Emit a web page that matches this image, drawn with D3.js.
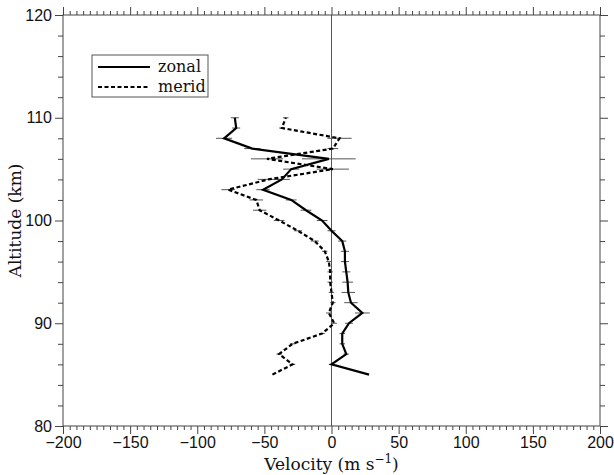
<!DOCTYPE html>
<html><head><meta charset="utf-8">
<script src="https://cdn.jsdelivr.net/npm/d3@7"></script>
<style>body{margin:0;background:#fff}</style>
</head><body>
<svg id="c" width="614" height="475"></svg>
<script>
const altitude = [85,86,87,88,89,90,91,92,93,94,95,96,97,98,99,100,101,102,103,104,105,106,107,108,109,110];
const zonal    = [28,0,11,8,8,13,23,14.5,12.5,12,11,10,10,8,0,-7,-19,-30,-51,-37,-30,-2,-59,-80,-71,-72];
const zonalErr = [0,2,2,2,2,3,5.5,5,5,4,3,3,3,3,3,4,4,4,5,6,6,20,6,6,3,3];
const merid    = [-44,-29,-39,-29,-7,2,-2,1,0,-1,-1,-2,-5,-12.5,-25,-39,-53.5,-56,-77,-47,1,-48,1,6,-37,-34];
const meridErr = [0,2,2,2,2,2,2,2,2,2,2,2,2,3,3,4,5,5,5,8,12,12,4,9,2,2];
const xTicks = [-200,-150,-100,-50,0,50,100,150,200];
const yTicks = [80,90,100,110,120];
const seriesNames = ["zonal","merid"];

const W=614,H=475, m={l:63,r:14,t:15,b:49};
const svg=d3.select("#c");
const x=d3.scaleLinear().domain([-200,200]).range([m.l,W-m.r]);
const y=d3.scaleLinear().domain([80,120]).range([H-m.b,m.t]);

const minorX=d3.range(-200,201,5).filter(v=>v%50!==0);
const minorY=d3.range(80,121,2).filter(v=>v%10!==0);
const axisColor="#444";
function styleAxis(g){g.selectAll("path,line").attr("stroke",axisColor).attr("stroke-width",1);g.select(".domain").remove();}

// minor ticks
svg.append("g").attr("transform",`translate(0,${H-m.b})`).call(d3.axisBottom(x).tickValues(minorX).tickSize(4).tickFormat("")).call(styleAxis);
svg.append("g").attr("transform",`translate(0,${m.t})`).call(d3.axisTop(x).tickValues(minorX).tickSize(4).tickFormat("")).call(styleAxis);
svg.append("g").attr("transform",`translate(${m.l},0)`).call(d3.axisLeft(y).tickValues(minorY).tickSize(5).tickFormat("")).call(styleAxis);
svg.append("g").attr("transform",`translate(${W-m.r},0)`).call(d3.axisRight(y).tickValues(minorY).tickSize(5).tickFormat("")).call(styleAxis);
// major ticks
const fmt=d=>d<0?"\u2212"+Math.abs(d):String(d);
svg.append("g").attr("transform",`translate(0,${H-m.b})`).call(d3.axisBottom(x).tickValues(xTicks).tickSize(8).tickPadding(3).tickFormat(fmt)).call(styleAxis);
svg.append("g").attr("transform",`translate(0,${m.t})`).call(d3.axisTop(x).tickValues(xTicks).tickSize(8).tickFormat("")).call(styleAxis);
svg.append("g").attr("transform",`translate(${m.l},0)`).call(d3.axisLeft(y).tickValues(yTicks).tickSize(8).tickPadding(3).tickFormat(fmt)).call(styleAxis);
svg.append("g").attr("transform",`translate(${W-m.r},0)`).call(d3.axisRight(y).tickValues(yTicks).tickSize(8).tickFormat("")).call(styleAxis);
svg.selectAll("g text").attr("font-family","Liberation Sans, Arial, sans-serif").attr("font-size",16).attr("fill","#111");

// frame
svg.append("rect").attr("x",m.l).attr("y",m.t).attr("width",W-m.l-m.r).attr("height",H-m.t-m.b)
  .attr("fill","none").attr("stroke",axisColor).attr("stroke-width",1);
// zero line
svg.append("line").attr("x1",x(0)).attr("x2",x(0)).attr("y1",m.t).attr("y2",H-m.b).attr("stroke","#555").attr("stroke-width",1);

// error bars
function errBars(vals,errs){
  svg.append("g").selectAll("line").data(altitude.map((a,i)=>({a,v:vals[i],e:errs[i]})).filter(d=>d.e>0))
   .join("line").attr("x1",d=>x(d.v-d.e)).attr("x2",d=>x(d.v+d.e)).attr("y1",d=>y(d.a)).attr("y2",d=>y(d.a))
   .attr("stroke","#555").attr("stroke-width",1);
}
errBars(zonal,zonalErr); errBars(merid,meridErr);

const line=d3.line().x(d=>x(d[0])).y(d=>y(d[1]));
svg.append("path").datum(altitude.map((a,i)=>[zonal[i],a])).attr("d",line).attr("fill","none").attr("stroke","#000").attr("stroke-width",2.2).attr("stroke-linejoin","miter");
svg.append("path").datum(altitude.map((a,i)=>[merid[i],a])).attr("d",line).attr("fill","none").attr("stroke","#000").attr("stroke-width",2.2).attr("stroke-dasharray","4,2.5");

// axis titles
const serif="DejaVu Serif, Liberation Serif, serif";
const xt=svg.append("text").attr("x",x(0)).attr("y",470).attr("text-anchor","middle").attr("font-family",serif).attr("font-size",17).attr("fill","#111");
xt.append("tspan").text("Velocity (m s");
xt.append("tspan").attr("dy",-7).attr("font-size",12).text("\u22121");
xt.append("tspan").attr("dy",7).text(")");
svg.append("text").attr("transform",`translate(21,${(m.t+H-m.b)/2}) rotate(-90)`).attr("text-anchor","middle")
  .attr("font-family",serif).attr("font-size",17).attr("fill","#111").text("Altitude (km)");

// legend
const lg=svg.append("g");
lg.append("rect").attr("x",92).attr("y",55).attr("width",116).attr("height",42).attr("fill","#fff").attr("stroke","#555").attr("stroke-width",1);
[["zonal",null],["merid","4,2.5"]].forEach((s,i)=>{
  const yy=67+i*20;
  lg.append("line").attr("x1",98).attr("x2",150).attr("y1",yy).attr("y2",yy).attr("stroke","#000").attr("stroke-width",2).attr("stroke-dasharray",s[1]);
  lg.append("text").attr("x",158).attr("y",yy+5).attr("font-family",serif).attr("font-size",16).attr("fill","#111").text(seriesNames[i]);
});
</script>
</body></html>
